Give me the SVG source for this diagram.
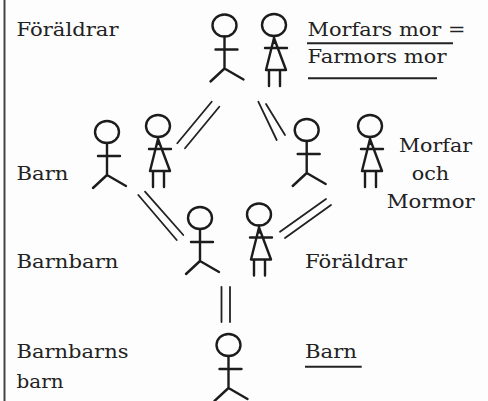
<svg xmlns="http://www.w3.org/2000/svg" width="488" height="401" viewBox="0 0 488 401">
<defs>
<style>
.fig{fill:none;stroke:#1c1c1c;stroke-width:2.4;stroke-linecap:round;stroke-linejoin:round}
.con line{stroke:#222;stroke-width:1.8;stroke-linecap:round}
.ul{stroke:#222;stroke-width:2}
</style>
<g id="male" class="fig">
<ellipse cx="0" cy="0" rx="12" ry="11"/>
<path d="M0,11V43M-9,24H13M0,43L-14,56M0,43L19,54"/>
</g>
<g id="female" class="fig">
<ellipse cx="0" cy="0" rx="12" ry="11"/>
<path d="M0,11V18M0,13L-8,45H12ZM-9,23H13M-5,45V61M6,45V61"/>
</g>
</defs>
<rect width="488" height="401" fill="#fdfdfd"/>
<line x1="4.5" y1="0" x2="4.5" y2="401" stroke="#444" stroke-width="2"/>

<g id="connectors" class="con">
<line x1="211.7" y1="101.7" x2="177.3" y2="143.3"/>
<line x1="219.3" y1="106.7" x2="185" y2="148.3"/>
<line x1="258.3" y1="101.7" x2="276.7" y2="140"/>
<line x1="266" y1="104" x2="285" y2="135"/>
<line x1="138.3" y1="195" x2="176.7" y2="240"/>
<line x1="145" y1="191.7" x2="183.3" y2="235"/>
<line x1="326" y1="199" x2="280" y2="231.7"/>
<line x1="331" y1="205" x2="285" y2="238"/>
<line x1="221.5" y1="287" x2="221.5" y2="322"/>
<line x1="230" y1="287" x2="230" y2="322"/>
</g>

<g id="n-top-male"><use href="#male" x="224.5" y="25.5"/></g>
<g id="n-top-female"><use href="#female" x="274" y="25"/></g>
<g id="n-barn-male"><use href="#male" x="107" y="132"/></g>
<g id="n-barn-female"><use href="#female" x="158" y="126"/></g>
<g id="n-morfar"><use href="#male" x="306.7" y="130"/></g>
<g id="n-mormor"><use href="#female" x="370" y="126"/></g>
<g id="n-mid-male"><use href="#male" x="200" y="218"/></g>
<g id="n-mid-female"><use href="#female" x="259" y="214.5"/></g>
<g id="n-bottom-male"><use href="#male" x="228.5" y="345"/></g>

<g id="labels" font-family="'DejaVu Serif', serif" font-size="18.5" fill="#222">
<text x="16.5" y="35.5" textLength="102" lengthAdjust="spacingAndGlyphs">Föräldrar</text>
<text x="307.5" y="35.5" textLength="158" lengthAdjust="spacingAndGlyphs">Morfars mor =</text>
<text x="307.5" y="63.3" textLength="139" lengthAdjust="spacingAndGlyphs">Farmors mor</text>
<text x="16.5" y="180" textLength="52" lengthAdjust="spacingAndGlyphs">Barn</text>
<text x="399" y="151.7" textLength="73" lengthAdjust="spacingAndGlyphs">Morfar</text>
<text x="411.7" y="180" textLength="37.5" lengthAdjust="spacingAndGlyphs">och</text>
<text x="386.7" y="208" textLength="88" lengthAdjust="spacingAndGlyphs">Mormor</text>
<text x="16.5" y="268.3" textLength="102" lengthAdjust="spacingAndGlyphs">Barnbarn</text>
<text x="305" y="268.3" textLength="102" lengthAdjust="spacingAndGlyphs">Föräldrar</text>
<text x="16.5" y="358.3" textLength="112" lengthAdjust="spacingAndGlyphs">Barnbarns</text>
<text x="16.5" y="388.3" textLength="47" lengthAdjust="spacingAndGlyphs">barn</text>
<text x="305" y="358.3" textLength="52" lengthAdjust="spacingAndGlyphs">Barn</text>
</g>
<g id="underlines" class="ul">
<line x1="307" y1="43.3" x2="453" y2="43.3"/>
<line x1="308" y1="78.3" x2="437" y2="78.3"/>
<line x1="305" y1="366.7" x2="361.7" y2="366.7"/>
</g>
</svg>
